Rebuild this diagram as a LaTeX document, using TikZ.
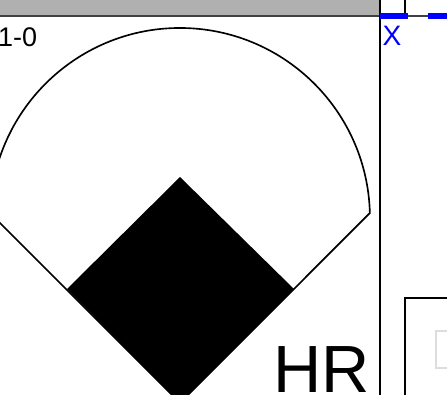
\documentclass[tikz,border=0pt]{standalone}
\usepackage{fontspec}
\setmainfont{Liberation Sans}
\usetikzlibrary{positioning}
\definecolor{scBar}  {HTML}{B0B0B0}
\definecolor{scRule} {HTML}{404040}
\definecolor{scBlue} {HTML}{0000FF}
\definecolor{scFaint}{HTML}{DDDDDD}

\begin{document}
\begin{tikzpicture}[x=0.03cm,y=-0.03cm,
      rule/.style={line width=1.4pt,draw=black},
      field/.style={line width=1.4pt,draw=black,line join=miter},
      tick/.style={line width=5pt,draw=scBlue},
      label/.style={inner sep=0pt,font=\fontsize{23}{23}\selectfont}]
    \useasboundingbox (0,0) rectangle (447,395);
    \clip (0,0) rectangle (447,395);

    % HEADER — grey bar over the cell, ruled off underneath
    \fill[scBar] (0,0) rectangle (380,16);
    \draw[line width=1.2pt,draw=scRule] (0,16) -- (447,16);
    \draw[rule] (380,0) -- (380,395);
    \draw[line width=1pt] (405,0) -- (405,13);
    \draw[tick] (380,16) -- (408,16);
    \draw[tick] (428,16) -- (447,16);
    \node[label,text=scBlue,font=\fontsize{24}{24}\selectfont] (mark) at (392,36) {X};

    % COUNT — balls and strikes in the corner
    \node[label,anchor=west] (count) at (-2,37) {1-0};

    % FIELD — foul lines, outfield arc, and the infield filled in
    \coordinate (home) at (180,403);
    \draw[field] (home) -- (-10,213) arc[start angle=181.5,end angle=358.5,radius=190] -- cycle;
    \fill[black] (180,177) -- (294,289) -- (home) -- (67,289) -- cycle;
    \node[inner sep=0pt,anchor=base,font=\fontsize{57}{57}\selectfont] (result) at (322,392) {HR};

    % NEXT CELL — edge of the neighbouring box
    \draw[line width=1.6pt,draw=black,line join=miter] (405,400) -- (405,298) -- (450,298);
    \draw[line width=1.5pt,draw=scFaint] (436,331) rectangle (470,368);
  \end{tikzpicture}
\end{document}
